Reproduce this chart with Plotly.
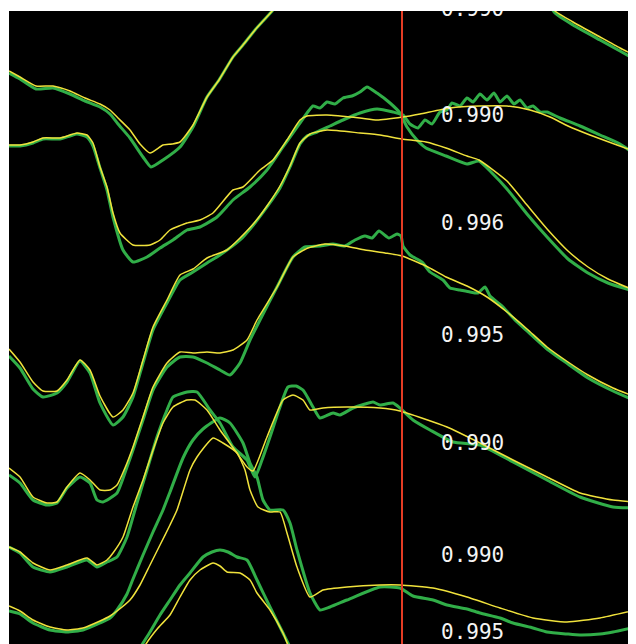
import plotly.graph_objects as go

# ---- data (x = sample position, y = display offset, downwards) ----
G1_X = [9, 20, 36, 53, 70, 85, 100, 110, 118, 130, 143, 151, 163, 180, 193, 207, 219, 233, 243, 255, 273, 320, 420, 500, 540, 555, 573, 600, 620, 636]
G1_Y = [73, 79, 89, 88, 94, 101, 107, 114, 124, 138, 157, 167, 160, 147, 127, 97, 80, 57, 45, 30, 10, -50, -80, -50, -10, 13, 25, 40, 51, 60]
Y1_X = [9, 20, 36, 53, 70, 85, 100, 110, 118, 130, 140, 150, 163, 172, 180, 193, 207, 219, 233, 243, 255, 273, 320, 420, 500, 540, 555, 573, 600, 620, 636]
Y1_Y = [71, 77, 86, 86, 91, 98, 104, 110, 118, 130, 144, 153, 145, 144, 142, 125, 97, 80, 57, 45, 30, 10, -50, -80, -50, -10, 11, 22, 37, 48, 56]

G2_X = [9, 20, 33, 43, 60, 70, 77, 87, 93, 100, 107, 113, 123, 133, 147, 160, 173, 187, 200, 217, 233, 250, 267, 283, 300, 313, 320, 327, 335, 343, 352, 360, 367, 377, 390, 400, 407, 417, 426, 446, 467, 479, 491, 507, 527, 548, 568, 588, 608, 636]
G2_Y = [146, 146, 143, 139, 139, 136, 134, 137, 146, 168, 190, 217, 250, 262, 257, 248, 240, 230, 227, 217, 200, 187, 170, 147, 123, 106, 108, 102, 104, 98, 96, 92, 87, 93, 103, 113, 127, 140, 148, 156, 164, 161, 172, 189, 214, 238, 259, 273, 283, 292]
Y2_X = [9, 20, 33, 43, 60, 70, 77, 87, 93, 100, 107, 113, 120, 133, 150, 160, 170, 187, 200, 213, 233, 243, 260, 273, 287, 300, 307, 327, 360, 377, 403, 420, 450, 480, 507, 530, 550, 568, 590, 617, 636]
Y2_Y = [145, 145, 142, 138, 138, 135, 133, 135, 143, 167, 187, 213, 233, 245, 245, 240, 230, 223, 220, 213, 190, 187, 170, 160, 140, 120, 116, 115, 118, 120, 117, 114, 108, 106, 106, 110, 117, 126, 135, 145, 152]

G3_X = [9, 20, 33, 43, 57, 67, 80, 90, 100, 113, 123, 133, 143, 153, 167, 180, 193, 207, 220, 240, 255, 267, 280, 290, 300, 307, 317, 330, 343, 360, 377, 393, 403, 410, 418, 425, 432, 440, 447, 452, 460, 467, 473, 480, 487, 494, 500, 507, 514, 520, 527, 533, 540, 547, 560, 580, 600, 620, 636]
G3_Y = [356, 368, 389, 397, 393, 382, 361, 373, 403, 425, 417, 397, 363, 330, 303, 280, 272, 263, 255, 240, 223, 207, 188, 167, 144, 136, 132, 126, 120, 113, 109, 112, 115, 124, 128, 120, 124, 112, 110, 103, 106, 98, 102, 94, 100, 93, 102, 96, 104, 100, 108, 106, 112, 112, 118, 126, 135, 144, 155]
Y3_X = [9, 20, 33, 43, 57, 67, 80, 90, 100, 113, 123, 133, 143, 153, 167, 180, 193, 207, 227, 240, 255, 267, 280, 290, 300, 310, 327, 360, 380, 402, 426, 446, 467, 479, 507, 527, 548, 568, 588, 608, 636]
Y3_Y = [349, 362, 382, 391, 391, 380, 360, 370, 396, 417, 410, 393, 360, 327, 300, 275, 269, 258, 250, 238, 222, 206, 186, 166, 143, 134, 130, 133, 135, 139, 142, 148, 156, 160, 181, 205, 230, 251, 267, 279, 291]

G4_X = [9, 20, 33, 47, 57, 67, 80, 90, 97, 103, 117, 127, 133, 143, 153, 167, 180, 193, 207, 220, 230, 240, 250, 260, 277, 293, 305, 320, 333, 345, 355, 365, 372, 379, 389, 397, 401, 403, 410, 422, 430, 443, 450, 460, 470, 478, 485, 490, 503, 515, 527, 547, 568, 588, 613, 636]
G4_Y = [475, 483, 500, 505, 503, 488, 477, 483, 500, 502, 493, 467, 450, 420, 390, 367, 357, 357, 363, 370, 375, 363, 340, 320, 287, 257, 247, 246, 244, 246, 240, 236, 238, 231, 238, 234, 236, 246, 255, 262, 272, 280, 288, 290, 292, 293, 287, 296, 307, 320, 331, 349, 364, 378, 391, 401]
Y4_X = [9, 20, 33, 47, 57, 67, 80, 90, 100, 110, 117, 127, 133, 143, 153, 167, 180, 193, 207, 220, 233, 247, 257, 277, 293, 308, 325, 345, 365, 385, 402, 426, 446, 467, 487, 507, 527, 547, 568, 588, 613, 636]
Y4_Y = [468, 477, 497, 503, 502, 487, 473, 480, 490, 490, 485, 463, 447, 417, 387, 363, 352, 353, 352, 353, 350, 340, 320, 287, 257, 248, 244, 246, 250, 253, 256, 266, 277, 286, 297, 312, 329, 347, 362, 375, 388, 397]

G5_X = [9, 20, 33, 50, 67, 87, 97, 107, 117, 127, 137, 147, 157, 167, 173, 187, 197, 210, 220, 233, 247, 255, 262, 270, 280, 288, 296, 303, 313, 320, 333, 340, 353, 365, 373, 380, 393, 400, 413, 430, 453, 480, 513, 547, 580, 613, 636]
G5_Y = [547, 553, 567, 572, 567, 560, 567, 562, 557, 537, 503, 470, 437, 410, 397, 392, 392, 410, 423, 447, 460, 477, 460, 437, 407, 387, 386, 390, 407, 418, 413, 415, 408, 404, 402, 405, 403, 408, 420, 430, 442, 445, 462, 480, 497, 507, 508]
Y5_X = [9, 20, 33, 50, 67, 87, 97, 107, 113, 123, 133, 143, 153, 163, 173, 187, 195, 207, 220, 237, 247, 253, 267, 283, 293, 303, 310, 323, 347, 380, 400, 447, 480, 513, 547, 580, 613, 636]
Y5_Y = [547, 552, 563, 570, 565, 558, 565, 560, 553, 537, 507, 480, 450, 423, 407, 400, 400, 410, 430, 453, 467, 471, 437, 400, 395, 400, 410, 408, 407, 408, 411, 427, 443, 460, 477, 493, 500, 502]

G6_X = [9, 20, 33, 50, 67, 83, 100, 110, 117, 127, 133, 143, 153, 163, 170, 183, 193, 203, 220, 230, 243, 250, 257, 263, 270, 283, 290, 297, 310, 320, 330, 347, 380, 400, 413, 433, 447, 467, 480, 500, 513, 533, 547, 567, 580, 600, 613, 636]
G6_Y = [611, 614, 623, 630, 632, 630, 623, 618, 610, 594, 579, 555, 532, 510, 492, 458, 440, 429, 418, 423, 443, 463, 477, 500, 510, 510, 523, 550, 593, 610, 607, 600, 587, 588, 596, 600, 605, 609, 613, 618, 623, 628, 632, 634, 635, 634, 632, 627]
Y6_X = [9, 20, 33, 50, 67, 83, 100, 110, 117, 130, 140, 150, 160, 170, 177, 190, 197, 213, 223, 237, 245, 250, 258, 270, 280, 287, 297, 310, 323, 347, 380, 400, 433, 467, 500, 533, 567, 600, 636]
Y6_Y = [606, 611, 620, 627, 630, 628, 621, 616, 611, 600, 585, 565, 545, 525, 510, 470, 457, 438, 443, 453, 470, 490, 507, 512, 512, 533, 567, 597, 590, 587, 585, 585, 588, 597, 608, 618, 622, 618, 610]

G7_X = [100, 125, 140, 150, 160, 170, 180, 190, 203, 212, 220, 228, 237, 247, 257, 270, 283, 290, 310, 340]
G7_Y = [720, 675, 648, 632, 615, 600, 585, 573, 557, 552, 550, 552, 557, 560, 580, 607, 633, 647, 690, 740]
Y7_X = [105, 130, 146, 158, 170, 180, 190, 200, 213, 220, 227, 240, 250, 257, 270, 283, 290, 310, 340]
Y7_Y = [720, 675, 644, 628, 615, 597, 580, 570, 563, 566, 572, 573, 580, 593, 610, 633, 650, 690, 740]

LABELS = ["0.990", "0.990", "0.996", "0.995", "0.990", "0.990", "0.995"]
LABEL_Y = [11, 117, 225, 337, 445, 557, 634]
LABEL_X = 441
MARKER_X = 402

GREEN = "#31ae48"
YELLOW = "#f0e23c"
RED = "#e43c24"

greens = [(G1_X, G1_Y), (G2_X, G2_Y), (G3_X, G3_Y), (G4_X, G4_Y), (G5_X, G5_Y), (G6_X, G6_Y), (G7_X, G7_Y)]
yellows = [(Y1_X, Y1_Y), (Y2_X, Y2_Y), (Y3_X, Y3_Y), (Y4_X, Y4_Y), (Y5_X, Y5_Y), (Y6_X, Y6_Y), (Y7_X, Y7_Y)]

fig = go.Figure()
for gx, gy in greens:
    fig.add_trace(go.Scatter(x=gx, y=gy, mode="lines",
                             line=dict(color=GREEN, width=3, shape="spline", smoothing=0.5),
                             hoverinfo="skip", showlegend=False))
for yx, yy in yellows:
    fig.add_trace(go.Scatter(x=yx, y=yy, mode="lines",
                             line=dict(color=YELLOW, width=1.5, shape="spline", smoothing=0.5),
                             hoverinfo="skip", showlegend=False))

fig.add_shape(type="line", x0=MARKER_X, x1=MARKER_X, y0=0, y1=1, xref="x", yref="paper",
              line=dict(color=RED, width=2))

fig.add_trace(go.Scatter(x=[LABEL_X] * len(LABELS), y=LABEL_Y, mode="text", text=LABELS,
                         textposition="middle right", cliponaxis=True,
                         textfont=dict(family="DejaVu Sans Mono", size=21, color="#f4f4f4"),
                         hoverinfo="skip", showlegend=False))

# The page body has an 8px margin, so the figure is sized to fit the window exactly.
fig.update_layout(
    width=628, height=636,
    margin=dict(l=1, r=0, t=3, b=0),
    paper_bgcolor="white", plot_bgcolor="black",
    xaxis=dict(range=[9, 636], visible=False, showgrid=False, zeroline=False),
    yaxis=dict(range=[644, 11], visible=False, showgrid=False, zeroline=False),
)

fig.write_html("out.html")
